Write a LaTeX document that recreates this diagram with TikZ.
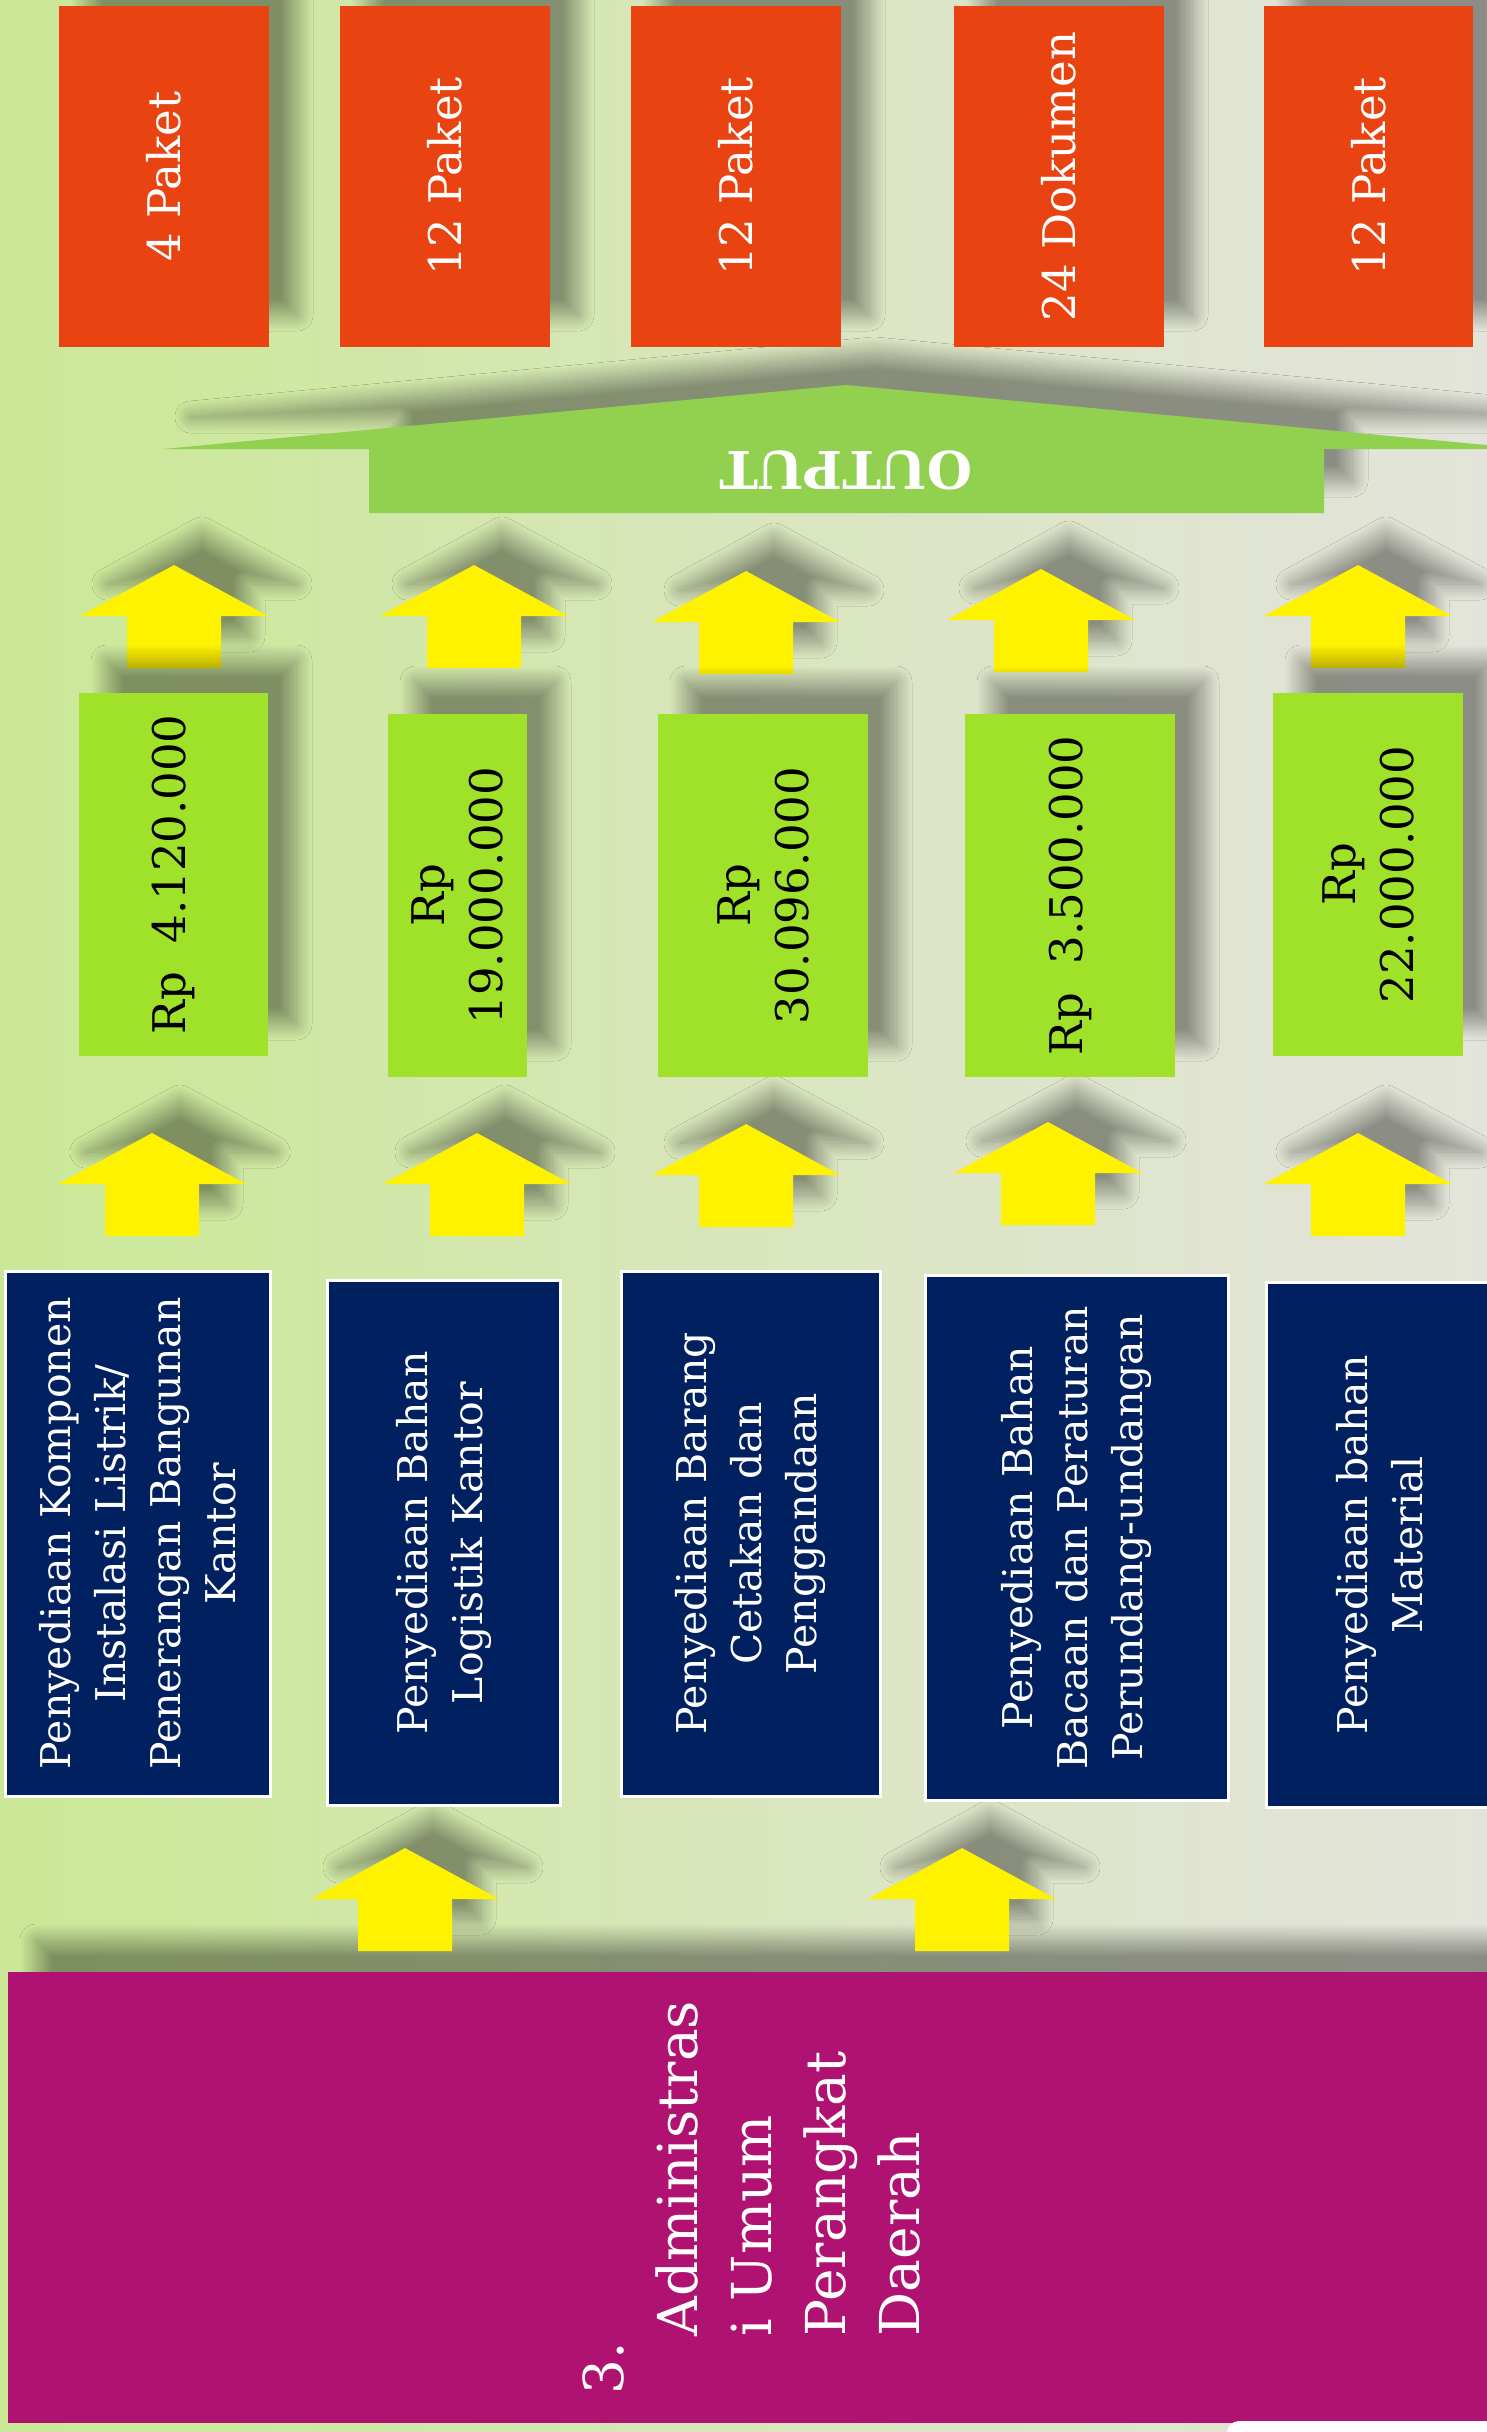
\documentclass[tikz,border=0pt]{standalone}
\usepackage{fontspec}
\setmainfont{DejaVu Serif}
\usetikzlibrary{shadows.blur}
\definecolor{paketred}{RGB}{232,67,16}
\definecolor{danagreen}{RGB}{160,226,42}
\definecolor{outgreen}{RGB}{146,208,80}
\definecolor{kegnavy}{RGB}{0,32,96}
\definecolor{progmag}{RGB}{176,18,114}
\pgfdeclarehorizontalshading{slidebg}{100bp}{rgb(0bp)=(0.78,0.91,0.54); rgb(30bp)=(0.80,0.91,0.61); rgb(55bp)=(0.86,0.90,0.77); rgb(80bp)=(0.90,0.89,0.88); rgb(100bp)=(0.93,0.89,0.96)}
\begin{document}
\begin{tikzpicture}[x=0.25pt,y=-0.25pt,
    softshadow/.style={blur shadow={shadow xshift=7pt,shadow yshift=8pt,shadow blur radius=4pt,
      shadow blur steps=30,shadow opacity=38}},
    paket/.style={softshadow,fill=paketred,text=white,inner sep=0pt,rotate=90,
      minimum height={#1*0.25pt},minimum width={341*0.25pt},font=\fontsize{11.25}{14.5}\selectfont},
    dana/.style={softshadow,fill=danagreen,text=black,inner sep=0pt,rotate=90,align=center,
      minimum height={#1*0.25pt},minimum width={363*0.25pt},font=\fontsize{11.25}{14.5}\selectfont},
    kegiatan/.style={fill=kegnavy,draw=white,line width=0.75pt,text=white,inner sep=0pt,
      rotate=90,align=center,minimum height={#1*0.25pt},minimum width={525*0.25pt},
      font=\fontsize{10.25}{13.75}\selectfont},
    program/.style={softshadow,fill=progmag,text=white,inner sep=0pt,rotate=90,align=left,
      minimum height={1486*0.25pt},minimum width={451*0.25pt},font=\fontsize{13.75}{18.5}\selectfont},
    panah/.style={softshadow,fill=yellow},
    keluaran/.style={softshadow,fill=outgreen}]
  \useasboundingbox (0,0) rectangle (1487,2432);
  \clip (0,0) rectangle (1487,2432);
  \fill[shading=slidebg] (0,0) rectangle (1487,2432);

  \node[program] (prog) at (751,2197.5)
    {3.\\\hspace*{14.5pt}Administras\\\hspace*{14.5pt}i Umum\\\hspace*{14.5pt}Perangkat\\\hspace*{14.5pt}Daerah};
  \fill[white,rounded corners=3pt] (1227,2421) rectangle (1500,2450);

  \foreach \x/\y in {405/1848,962/1848,152/1133,477/1133,746/1124,1048/1122,1358/1133,
                     174/565,474/565,746/571,1041/569,1358/565}
    \fill[panah] (\x,\y) -- ++(94,51) -- ++(-47,0) -- ++(0,52) -- ++(-94,0) -- ++(0,-52) -- ++(-47,0) -- cycle;

  \node[kegiatan=265] (k1) at (137.5,1533.5)
    {Penyediaan Komponen\\Instalasi Listrik/\\Penerangan Bangunan\\Kantor};
  \node[kegiatan=233] (k2) at (443.5,1543) {Penyediaan Bahan\\Logistik Kantor};
  \node[kegiatan=259] (k3) at (750.5,1533.5) {Penyediaan Barang\\Cetakan dan\\Penggandaan};
  \node[kegiatan=303] (k4) at (1076.5,1537.5)
    {Penyediaan Bahan\\Bacaan dan Peraturan\\Perundang-undangan};
  \node[kegiatan=228] (k5) at (1380,1545) {Penyediaan bahan\\Material};

  \node[dana=189] (d1) at (173.5,874.5) {Rp\ \ 4.120.000};
  \node[dana=139] (d2) at (457.5,895.5) {Rp\\19.000.000};
  \node[dana=210] (d3) at (763,895.5) {Rp\\30.096.000};
  \node[dana=210] (d4) at (1070,895.5) {Rp\ \ 3.500.000};
  \node[dana=190] (d5) at (1368,874.5) {Rp\\22.000.000};

  \fill[keluaran] (846,385) -- (1529,449) -- (1324,449) -- (1324,513) -- (369,513) -- (369,449) -- (163,449) -- cycle;
  \node[text=white,rotate=180,font=\bfseries\fontsize{13}{15}\selectfont] (out) at (846,470) {OUTPUT};

  \node[paket=210] (p1) at (164,176.5) {4 Paket};
  \node[paket=210] (p2) at (445,176.5) {12 Paket};
  \node[paket=210] (p3) at (736,176.5) {12 Paket};
  \node[paket=210] (p4) at (1059,176.5) {24 Dokumen};
  \node[paket=209] (p5) at (1368.5,176.5) {12 Paket};
\end{tikzpicture}
\end{document}
